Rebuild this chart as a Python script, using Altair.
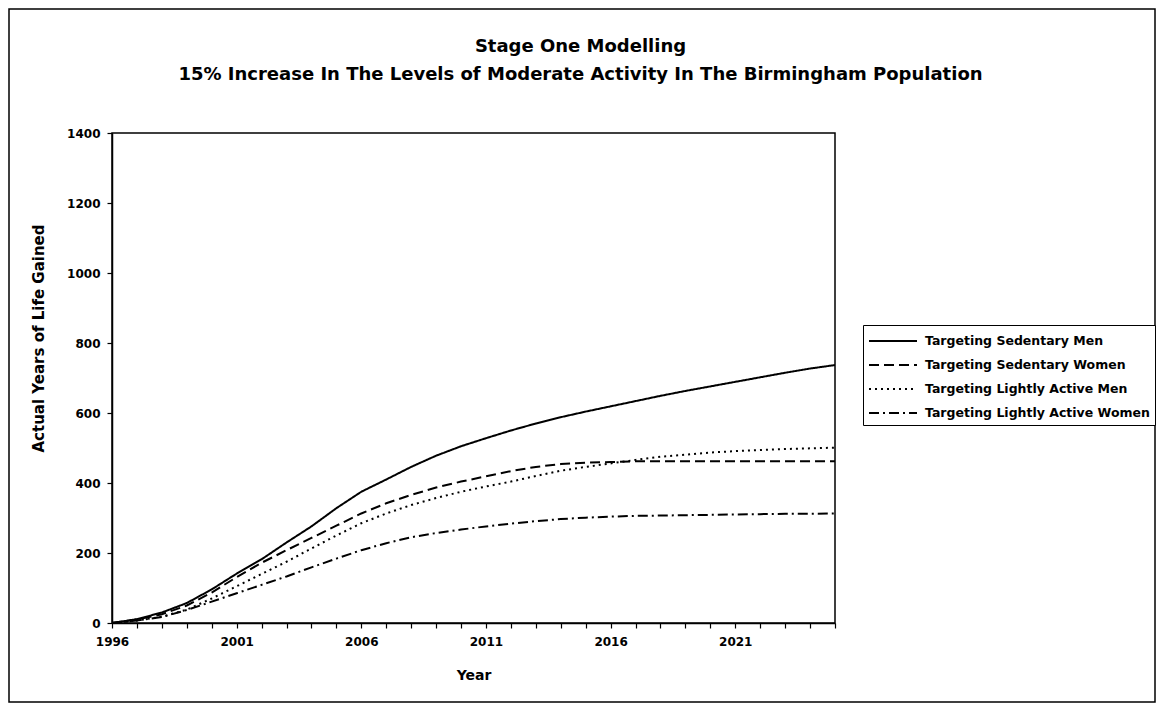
import altair as alt
import pandas as pd

years = list(range(1996, 2026))

sedentary_men = [0, 11, 30, 57, 96, 141, 182, 230, 276, 328, 375, 410, 446, 478, 505,
                 528, 550, 570, 588, 604, 619, 634, 649, 663, 676, 689, 702, 715, 727, 737]
sedentary_women = [0, 10, 25, 50, 87, 131, 172, 208, 243, 278, 313, 342, 366, 387, 404,
                   419, 434, 446, 454, 458, 460, 462, 462, 462, 462, 462, 462, 462, 462, 462]
lightly_men = [0, 7, 18, 38, 70, 105, 140, 175, 213, 250, 285, 313, 337, 357, 375,
               390, 404, 420, 435, 446, 456, 466, 475, 481, 487, 491, 494, 497, 499, 501]
lightly_women = [0, 7, 17, 37, 61, 85, 109, 133, 159, 184, 208, 228, 245, 257, 267,
                 276, 284, 291, 297, 301, 304, 306, 307, 308, 309, 310, 311, 312, 312, 313]

series_names = [
    "Targeting Sedentary Men",
    "Targeting Sedentary Women",
    "Targeting Lightly Active Men",
    "Targeting Lightly Active Women",
]
y_ticks = [0, 200, 400, 600, 800, 1000, 1200, 1400]

rows = []
for name, vals in zip(series_names, [sedentary_men, sedentary_women, lightly_men, lightly_women]):
    for yr, v in zip(years, vals):
        rows.append({"Year": yr, "Value": v, "Series": name})
df = pd.DataFrame(rows)

FONT = "DejaVu Sans"

lines = alt.Chart(df).mark_line(color="black", strokeWidth=2, clip=True).encode(
    x=alt.X(
        "Year:Q",
        scale=alt.Scale(domain=[1996, 2025], nice=False, zero=False),
        axis=alt.Axis(
            values=years, format="d",
            labelExpr="(datum.value - 1996) % 5 == 0 ? datum.label : ''",
            title="Year", grid=False, tickSize=5, labelPadding=8,
            labelFontSize=12, titleFontSize=14, titleY=52, titleBaseline="middle",
            labelFlush=False, labelOverlap=False,
        ),
    ),
    y=alt.Y(
        "Value:Q",
        scale=alt.Scale(domain=[0, 1400], nice=False),
        axis=alt.Axis(
            values=y_ticks, format="d", title="Actual Years of Life Gained", grid=False,
            tickSize=5, labelPadding=7, labelFontSize=12, titleFontSize=15,
            titleX=-74, titleY=205, titleAngle=270, titleAlign="center",
            titleBaseline="middle",
        ),
    ),
    strokeDash=alt.StrokeDash(
        "Series:N",
        scale=alt.Scale(domain=series_names, range=[[1, 0], [10, 5], [2, 4], [10, 4, 2, 4]]),
        legend=alt.Legend(
            title=None, orient="none", legendX=751, legendY=192, padding=5,
            strokeColor="black", fillColor="white", cornerRadius=0,
            symbolType="M-2.4,0H2.4", symbolSize=400, symbolStrokeWidth=2,
            symbolStrokeColor="black", symbolOffset=14, labelOffset=21,
            labelFont=FONT, labelFontSize=12.5, labelFontWeight="bold",
            labelColor="black", rowPadding=6, labelLimit=400,
        ),
    ),
)

frame = alt.Chart(pd.DataFrame({"f": [0]})).mark_rect(
    fillOpacity=0, stroke="black", strokeWidth=1.5
).encode(
    x=alt.value(-103), x2=alt.value(1043), y=alt.value(-124), y2=alt.value(569)
)

chart = alt.layer(frame, lines).properties(
    width=723,
    height=490,
    autosize=alt.AutoSizeParams(type="none"),
    padding={"left": 104, "top": 125, "right": 322, "bottom": 80},
    title=alt.Title(
        ["Stage One Modelling",
         "15% Increase In The Levels of Moderate Activity In The Birmingham Population"],
        font=FONT, fontSize=18, fontWeight="bold", color="black",
        anchor="middle", dx=107, offset=-76, lineHeight=28,
    ),
).configure_view(
    stroke="black", strokeWidth=1.5
).configure_axis(
    domainColor="black", domainWidth=1.5, tickColor="black", tickWidth=1.2,
    labelColor="black", titleColor="black", labelFont=FONT, titleFont=FONT,
    labelFontWeight="bold", titleFontWeight="bold",
)

chart.save("out.html", embed_options={"renderer": "svg", "actions": False})
